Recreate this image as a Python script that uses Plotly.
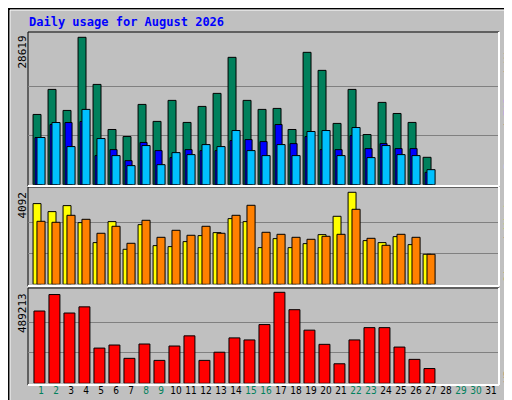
import plotly.graph_objects as go

days = list(range(1, 32))
# values (days 1-27 have data)
hits = [13640,18500,14420,28619,19470,10720,9350,15590,12290,16370,12090,15200,17730,24730,16370,14620,14810,10720,25700,22200,11900,18500,9740,15980,13830,12090,5320]
files = [9160,11680,12070,12270,5650,6810,4670,8200,6620,5260,6810,6620,6620,8570,8760,8370,11680,7980,9350,6810,6810,9540,7010,7980,7010,7010,2400]
pages = [9160,12070,7400,14620,8960,5650,3700,7600,3890,6230,5840,7790,7400,10520,6620,5650,7790,5650,10330,10520,5650,11100,5260,7600,5840,5650,2920]
visits = [3589,3233,3500,2743,1854,2788,1557,2654,1720,1676,1898,2165,2298,2921,2788,1631,2032,1631,1809,2209,3025,4092,1943,1854,2120,1765,1335]
sites = [2802,2758,3069,2891,2269,2580,1824,2847,2090,2402,2180,2580,2269,3069,3514,2313,2224,2090,2002,2135,2224,3336,2046,1735,2224,2090,1335]
kbytes = [388560,477160,377810,410980,189290,205780,134190,211290,123140,200340,255110,123140,167140,244120,233130,315750,489213,395730,285730,209460,104920,233130,299250,299250,194780,128640,79260]
weekend = {1,2,8,9,15,16,22,23,29,30}
ticktext = [f'<span style="color:#00805C">{d}</span>' if d in weekend else str(d) for d in days]

W, H = 512, 400
def py(y): return 1 - y / H
xdom = [20 / W, 491 / W]
xr = [0.133, 31.53]

fig = go.Figure()
d = days[:27]
def bar(y, color, off, width, axis):
    fig.add_trace(go.Bar(x=d, y=y, offset=off, width=width, marker=dict(color=color, line=dict(color='black', width=1)),
                         xaxis='x', yaxis=axis, showlegend=False, hoverinfo='skip'))
bar(hits, '#00805C', -0.53, 0.53, 'y')
bar(files, '#0000FF', -0.4, 0.47, 'y')
bar(pages, '#00C0FF', -0.27, 0.54, 'y')
bar(visits, '#FFFF00', -0.53, 0.53, 'y2')
bar(sites, '#FF8000', -0.27, 0.54, 'y2')
bar(kbytes, '#FF0000', -0.47, 0.73, 'y3')

def yax(top, bot, mx, rng):
    return dict(domain=[py(bot), py(top)], range=[0, rng], tickvals=[mx / 3, 2 * mx / 3], showticklabels=False,
                showgrid=True, gridcolor='#808080', gridwidth=1, zeroline=False, fixedrange=True, automargin=False)

fig.update_layout(
    width=W, height=H, margin=dict(l=0, r=0, t=0, b=0, autoexpand=False),
    paper_bgcolor='#C0C0C0', plot_bgcolor='#C0C0C0', barmode='overlay',
    font=dict(family='DejaVu Sans Mono', size=11, color='black'),
    xaxis=dict(domain=xdom, range=xr, anchor='y3', tickvals=days, ticktext=ticktext, ticks='', tickangle=0,
               automargin=False, showgrid=False, zeroline=False, tickfont=dict(size=10, family='DejaVu Sans Condensed'),
               fixedrange=True),
    yaxis=yax(25, 176.7, 28619, 29454),
    yaxis2=yax(180, 276.3, 4092, 4283),
    yaxis3=yax(281, 375.3, 489213, 506953),
)
shapes = [
    dict(type='rect', xref='paper', yref='paper', x0=0.002, x1=0.998, y0=0.002, y1=0.998, line=dict(color='black', width=2)),
    dict(type='rect', xref='paper', yref='paper', x0=2/W, x1=507/W, y0=py(395), y1=py(2), line=dict(color='white', width=1)),
]
for top, bot in [(24, 178), (179, 278), (280, 377)]:
    shapes.append(dict(type='rect', xref='paper', yref='paper', x0=20/W, x1=491/W, y0=py(bot), y1=py(top),
                       line=dict(color='black', width=1), layer='below'))
    shapes.append(dict(type='line', xref='paper', yref='paper', x0=20/W, x1=491/W, y0=py(bot), y1=py(bot), line=dict(color='white', width=2)))
    shapes.append(dict(type='line', xref='paper', yref='paper', x0=491/W, x1=491/W, y0=py(bot), y1=py(top), line=dict(color='white', width=2)))
fig.update_layout(shapes=shapes)

ann = [
    dict(text='<b>Daily usage for August 2026</b>', x=19/W, y=py(5), xanchor='left', yanchor='top',
         font=dict(color='#0000FF', size=12)),
    dict(text='28619', x=14/W, y=py(26), textangle=-90, xanchor='center', yanchor='top', font=dict(size=11)),
    dict(text='4092', x=14/W, y=py(182), textangle=-90, xanchor='center', yanchor='top', font=dict(size=11)),
    dict(text='489213', x=14/W, y=py(283), textangle=-90, xanchor='center', yanchor='top', font=dict(size=11)),
    dict(text='<span style="color:#00C0FF">Pages</span> / <span style="color:#0000FF">Files</span> / <span style="color:#00805C">Hits</span>',
         x=500/W, y=py(27), textangle=-90, xanchor='center', yanchor='top', font=dict(size=11)),
    dict(text='<span style="color:#FF8000">Sites</span> / <span style="color:#FFFF00">Visits</span>',
         x=500/W, y=py(277), textangle=-90, xanchor='center', yanchor='bottom', font=dict(size=11)),
    dict(text='<span style="color:#FF0000">KBytes</span>',
         x=500/W, y=py(377), textangle=-90, xanchor='center', yanchor='bottom', font=dict(size=11)),
]
for a in ann:
    a.update(xref='paper', yref='paper', showarrow=False)
fig.update_layout(annotations=ann)
fig.write_html('out.html')
